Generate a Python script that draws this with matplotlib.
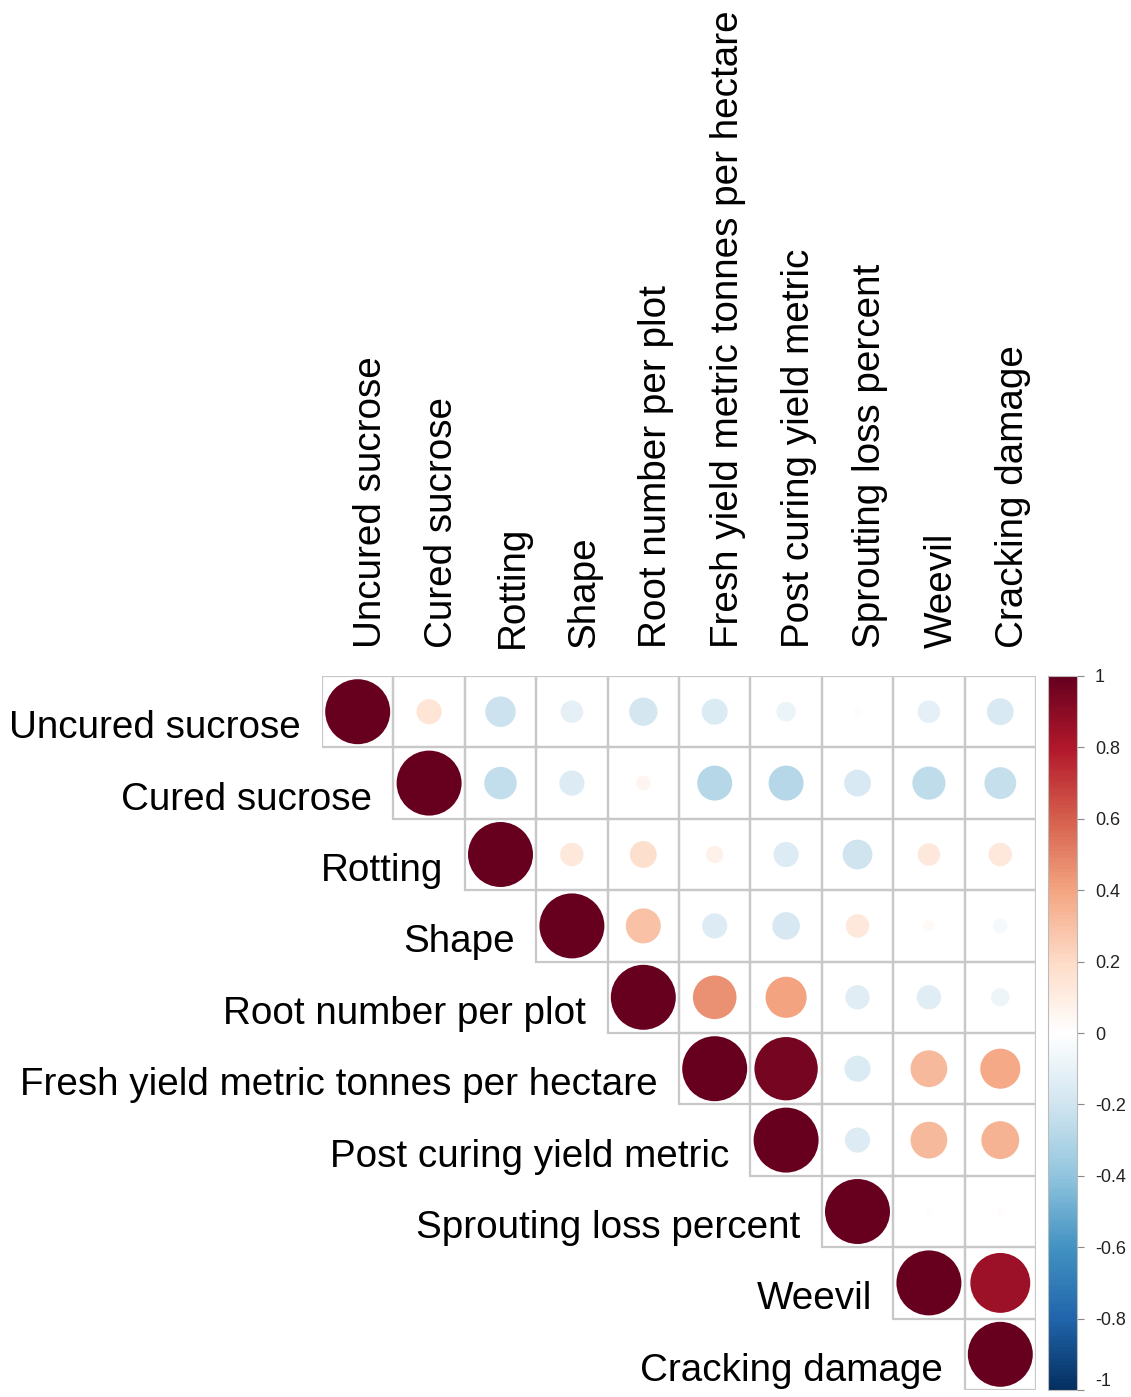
import matplotlib
matplotlib.use("Agg")
import matplotlib.pyplot as plt
import numpy as np
from matplotlib.patches import Circle, Rectangle
from matplotlib.colors import LinearSegmentedColormap, Normalize
from matplotlib.cm import ScalarMappable

plt.rcParams['font.family'] = ['Liberation Sans', 'DejaVu Sans']

variables = ["Uncured sucrose", "Cured sucrose", "Rotting", "Shape",
             "Root number per plot", "Fresh yield metric tonnes per hectare",
             "Post curing yield metric", "Sprouting loss percent", "Weevil",
             "Cracking damage"]

# upper triangle of the correlation matrix, one row per variable (diagonal first)
r_uncured = [1, 0.15, -0.22, -0.12, -0.19, -0.16, -0.09, -0.02, -0.12, -0.17]
r_cured = [1, -0.25, -0.15, 0.05, -0.29, -0.29, -0.17, -0.26, -0.24]
r_rotting = [1, 0.13, 0.17, 0.07, -0.15, -0.21, 0.12, 0.13]
r_shape = [1, 0.29, -0.15, -0.18, 0.13, 0.03, -0.05]
r_rootnum = [1, 0.45, 0.40, -0.14, -0.14, -0.08]
r_fresh = [1, 0.95, -0.16, 0.32, 0.38]
r_postcure = [1, -0.15, 0.32, 0.34]
r_sprout = [1, 0.01, 0.01]
r_weevil = [1, 0.85]
r_cracking = [1]

rows = [r_uncured, r_cured, r_rotting, r_shape, r_rootnum,
        r_fresh, r_postcure, r_sprout, r_weevil, r_cracking]
n = len(variables)
corr = np.full((n, n), np.nan)
for i, row in enumerate(rows):
    corr[i, i:] = row

# corrplot-style RdBu palette, blue = -1, dark red = +1
cmap = LinearSegmentedColormap.from_list("corr", [
    "#053061", "#2166AC", "#4393C3", "#92C5DE", "#D1E5F0", "#FFFFFF",
    "#FDDBC7", "#F4A582", "#D6604D", "#B2182B", "#67001F"], N=200)
norm = Normalize(-1, 1)

W, H = 1131, 1397
fig = plt.figure(figsize=(W / 100, H / 100), dpi=100)
ax = fig.add_axes([322 / W, (H - 1390) / H, 714 / W, 714 / H])
ax.set_xlim(0, n)
ax.set_ylim(n, 0)
ax.axis("off")

for i in range(n):
    for j in range(i, n):
        ax.add_patch(Rectangle((j, i), 1, 1, fill=False, ec="#c8c8c8", lw=1.6))
        v = corr[i, j]
        ax.add_patch(Circle((j + 0.5, i + 0.5), 0.455 * np.sqrt(abs(v)),
                            fc=cmap(norm(v)), ec="none"))

fs = 27.8
for i, name in enumerate(variables):
    ax.text(i - 0.3, i + 0.87, name, ha="right", va="baseline",
            fontsize=fs, color="black", clip_on=False)
    ax.text(i + 0.82, -0.39, name, rotation=90, rotation_mode="anchor",
            ha="left", va="baseline", fontsize=fs, color="black", clip_on=False)

cax = fig.add_axes([1048 / W, (H - 1390) / H, 29 / W, 714 / H])
cb = fig.colorbar(ScalarMappable(norm=norm, cmap=cmap), cax=cax)
ticks = np.round(np.arange(-1, 1.01, 0.2), 1)
cb.set_ticks(ticks)
cb.set_ticklabels(["%g" % t if t != 0 else "0" for t in ticks])
cb.outline.set_edgecolor("#bbbbbb")
cb.outline.set_linewidth(0.8)
cax.tick_params(length=5, width=0.8, color="#888888", labelsize=13, pad=8,
                labelcolor="#222222")
# keep the lowest label inside the figure
cax.get_yticklabels()[0].set_verticalalignment("bottom")

fig.savefig("out.png", dpi=100)
